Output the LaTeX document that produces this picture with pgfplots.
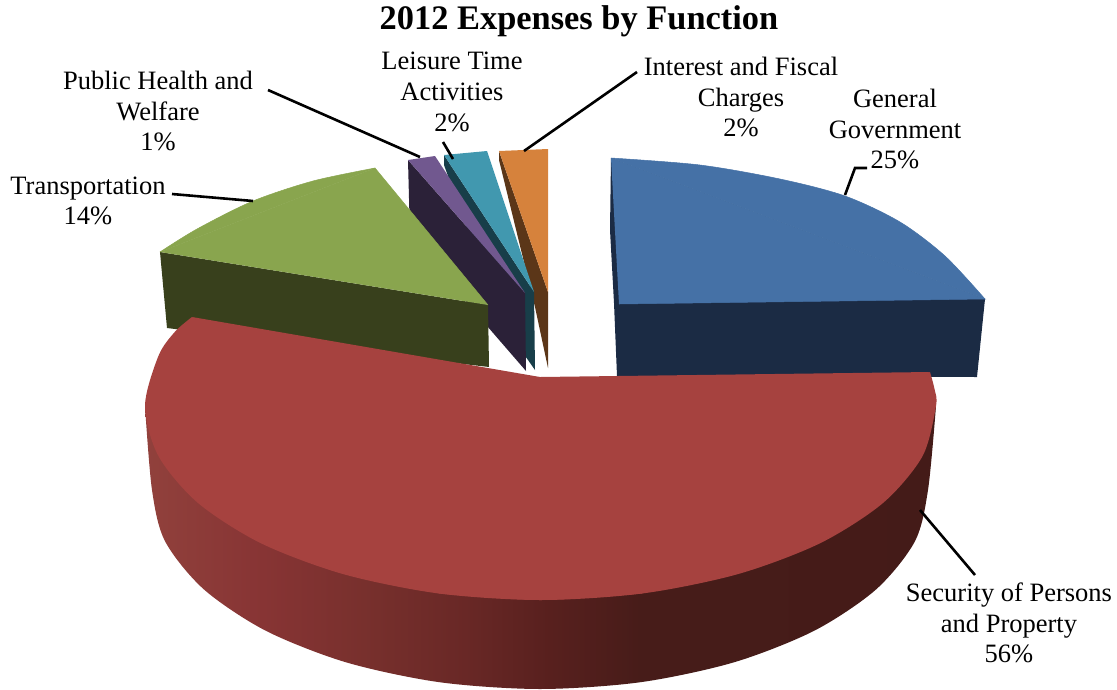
\documentclass[border=0pt]{standalone}
\usepackage{pgfplots}
\pgfplotsset{compat=1.18}
\usepackage{fontspec}
\setmainfont{Liberation Serif}
\definecolor{blueTop}{RGB}{69,113,166}
\definecolor{blueSide}{RGB}{27,43,68}
\definecolor{redTop}{RGB}{166,66,63}
\definecolor{greenTop}{RGB}{137,165,78}
\definecolor{greenSide}{RGB}{56,64,28}
\definecolor{purpleTop}{RGB}{113,88,143}
\definecolor{purpleSide}{RGB}{43,33,56}
\definecolor{tealTop}{RGB}{65,152,175}
\definecolor{tealSide}{RGB}{24,62,73}
\definecolor{orangeTop}{RGB}{214,130,60}
\definecolor{orangeSide}{RGB}{91,54,24}
\definecolor{wallA}{RGB}{145,65,60}
\definecolor{wallB}{RGB}{135,52,52}
\definecolor{wallC}{RGB}{120,48,45}
\definecolor{wallD}{RGB}{105,40,38}
\definecolor{wallE}{RGB}{88,32,30}
\definecolor{wallF}{RGB}{71,28,25}
\definecolor{wallG}{RGB}{68,27,24}
% Rim of the large slice, lit from the left
\pgfdeclarehorizontalshading{redwall}{100bp}{
  color(0bp)=(wallA); color(25bp)=(wallA); color(32.5bp)=(wallB);
  color(38.8bp)=(wallC); color(45.2bp)=(wallD); color(50.6bp)=(wallE);
  color(56.3bp)=(wallF); color(75bp)=(wallG); color(100bp)=(wallG)}
\tikzset{label text/.style={align=center,font=\fontsize{26.5}{30.7}\selectfont,text=black,inner sep=0pt}}
\pgfplotsset{leader/.style={black,line width=2.6pt,line join=miter},
  face/.style={fill=#1,draw=#1,line width=0.5pt}}
\begin{document}
\begin{tikzpicture}
\begin{axis}[
  scale only axis,width=1117pt,height=689pt,
  xmin=0,xmax=1117,ymin=0,ymax=689,y dir=reverse,
  hide axis,clip=false]

% Full canvas extent
\path (axis cs:0,0) rectangle (axis cs:1117,689);

% Interest and Fiscal Charges
\addplot[fill=orangeSide,draw=none] coordinates {(499,151)(548,292)(548,368)(535,307)(499,160)};
\addplot[fill=orangeTop,draw=none] coordinates {(499,151)(548,149)(548,292)};

% Leisure Time Activities
\addplot[fill=tealSide,draw=none] coordinates {(444,155)(534,292)(535,370)(500,320)(444,165)};
\addplot[fill=tealTop,draw=none] coordinates {(444,155)(487,151)(534,292)};

% Public Health and Welfare
\addplot[fill=purpleSide,draw=none] coordinates {(408,160)(525,293)(526,371)(410,237)};
\addplot[fill=purpleTop,draw=none] coordinates {(408,160)(435,156)(525,293)};

% Transportation
\addplot[fill=greenSide,draw=none] coordinates {(160,252)(488,305)(489,367)(300,345)(167,328)};
\addplot[face=greenTop,smooth] coordinates {(160,252)(197,229)(253,201)(313,181)(375,168)};
\addplot[face=greenTop] coordinates {(160,252)(375,168)(488,305)};

% General Government
\addplot[fill=blueSide,draw=none] coordinates {(611,158)(610,230)(614,303)(617,376)(977,377)(985,299)};
\addplot[face=blueTop,smooth] coordinates {(611,158)(700,165)(780,179)(845,196)(900,222)(945,256)(985,299)};
\addplot[face=blueTop] coordinates {(611,158)(985,299)(619,304)};

% Security of Persons and Property: rim, then the top face in overlapping pieces
\addplot[draw=none,shade,shading=redwall,smooth] coordinates {
  (145,406)(152,490)(165.2,541.5)(204,589.5)(265.7,630.7)(346,662.3)(439.5,682.2)
  (540,689)(640.5,682.2)(734,662.3)(814.3,630.7)(876,589.5)(914.8,541.5)(928,490)(936,406)};
\addplot[fill=redTop,draw=none,smooth] coordinates {
  (930,372)(934.5,389)(936,406)(922.5,456.2)(883,503)(820.2,543.2)(738.3,574)(642.9,593.4)(540.5,600)(438.1,593.4)};
\addplot[fill=redTop,draw=none,smooth] coordinates {
  (642.9,593.4)(540.5,600)(438.1,593.4)(342.8,574)(260.8,543.2)(198,503)(158.5,456.2)(145,406)(158.5,355.8)(175,331.7)(192,317)};
\addplot[fill=redTop,draw=none] coordinates {(540.5,590)(192,317)(540,377)(930,372)};

% Leader lines
\addplot[leader] coordinates {(845,195)(855,168)(867,168)};
\addplot[leader] coordinates {(920,510)(975,575)};
\addplot[leader] coordinates {(268,90)(420,157)};
\addplot[leader] coordinates {(443,142)(453,159)};
\addplot[leader] coordinates {(524,151)(637,72)};
\addplot[leader] coordinates {(172,194)(253,201)};

% Title and labels
\node[label text,font=\fontsize{34.4}{36}\selectfont\bfseries] at (axis cs:579,21) {2012 Expenses by Function};
\node[label text] at (axis cs:158,111) {Public Health and\\Welfare\\1\%};
\node[label text] at (axis cs:452,92) {Leisure Time\\Activities\\2\%};
\node[label text] at (axis cs:741,97) {Interest and Fiscal\\Charges\\2\%};
\node[label text] at (axis cs:895,129) {General\\Government\\25\%};
\node[label text] at (axis cs:88,201) {Transportation\\14\%};
\node[label text] at (axis cs:1009,623) {Security of Persons\\and Property\\56\%};
\end{axis}
\end{tikzpicture}
\end{document}
